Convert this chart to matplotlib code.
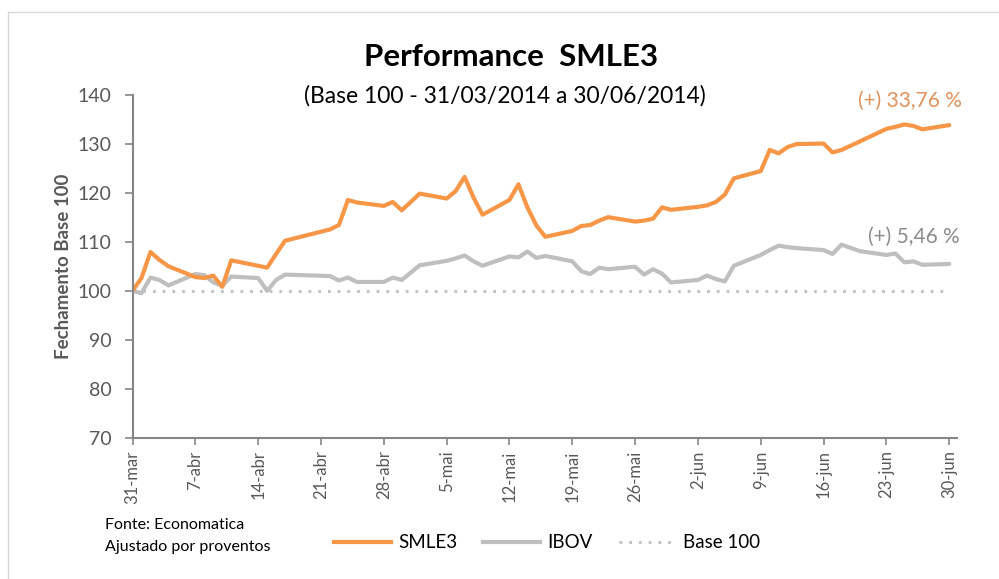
import pandas as pd
import matplotlib.pyplot as plt
from matplotlib.lines import Line2D
from matplotlib.patches import Rectangle

plt.rcParams['font.family'] = ['Lato', 'DejaVu Sans']

# trading days, 31/03/2014 to 30/06/2014
dates = pd.to_datetime([
    '2014-03-31', '2014-04-01', '2014-04-02', '2014-04-03', '2014-04-04',
    '2014-04-07', '2014-04-08', '2014-04-09', '2014-04-10', '2014-04-11',
    '2014-04-14', '2014-04-15', '2014-04-16', '2014-04-17',
    '2014-04-22', '2014-04-23', '2014-04-24', '2014-04-25',
    '2014-04-28', '2014-04-29', '2014-04-30', '2014-05-02',
    '2014-05-05', '2014-05-06', '2014-05-07', '2014-05-08', '2014-05-09',
    '2014-05-12', '2014-05-13', '2014-05-14', '2014-05-15', '2014-05-16',
    '2014-05-19', '2014-05-20', '2014-05-21', '2014-05-22', '2014-05-23',
    '2014-05-26', '2014-05-27', '2014-05-28', '2014-05-29', '2014-05-30',
    '2014-06-02', '2014-06-03', '2014-06-04', '2014-06-05', '2014-06-06',
    '2014-06-09', '2014-06-10', '2014-06-11', '2014-06-12', '2014-06-13',
    '2014-06-16', '2014-06-17', '2014-06-18', '2014-06-20',
    '2014-06-23', '2014-06-24', '2014-06-25', '2014-06-26', '2014-06-27',
    '2014-06-30'])

smle3 = [100.0, 102.6, 107.9, 106.3, 105.0,
         102.8, 102.6, 103.1, 100.8, 106.2,
         105.1, 104.7, 107.5, 110.2,
         112.5, 113.4, 118.5, 118.0,
         117.3, 118.1, 116.4, 119.8,
         118.8, 120.3, 123.2, 119.0, 115.5,
         118.5, 121.7, 117.0, 113.3, 111.0,
         112.2, 113.2, 113.4, 114.3, 115.0,
         114.1, 114.3, 114.7, 117.0, 116.5,
         117.1, 117.4, 118.1, 119.6, 122.9,
         124.4, 128.7, 128.0, 129.3, 129.9,
         130.0, 128.2, 128.7, 130.4,
         133.0, 133.4, 133.9, 133.6, 132.9,
         133.76]

ibov = [100.0, 99.5, 102.7, 102.2, 101.1,
        103.4, 103.2, 101.7, 101.0, 102.9,
        102.6, 100.0, 102.2, 103.3,
        103.0, 102.1, 102.7, 101.8,
        101.8, 102.7, 102.2, 105.2,
        106.1, 106.6, 107.2, 106.0, 105.1,
        107.0, 106.8, 108.0, 106.7, 107.1,
        106.0, 104.0, 103.4, 104.7, 104.4,
        104.9, 103.3, 104.4, 103.5, 101.7,
        102.2, 103.1, 102.4, 101.9, 105.1,
        107.3, 108.3, 109.2, 108.9, 108.7,
        108.3, 107.5, 109.4, 108.1,
        107.3, 107.6, 105.8, 106.0, 105.3,
        105.46]

tick_dates = pd.date_range('2014-03-31', '2014-06-30', freq='7D')
tick_labels = ['31-mar', '7-abr', '14-abr', '21-abr', '28-abr', '5-mai',
               '12-mai', '19-mai', '26-mai', '2-jun', '9-jun', '16-jun',
               '23-jun', '30-jun']

orange = '#F79646'
gray = '#BFBFBF'
axis_gray = '#868686'
text_gray = '#595959'

fig = plt.figure(figsize=(9.99, 5.79), dpi=100)
ax = fig.add_axes([132.5 / 999, 1 - 438 / 579, (956.7 - 132.5) / 999, (438 - 94.5) / 579])

# chart area border
fig.patches.append(Rectangle((8 / 999, -0.05), 1.2, 1 - 12 / 579 + 0.05,
                             transform=fig.transFigure, fill=False,
                             edgecolor='#D9D9D9', lw=1))

ax.plot([dates[0], dates[-1]], [100, 100], color=gray, lw=2, ls=(0, (1, 2.5)))
ax.plot(dates, ibov, color=gray, lw=3, solid_joinstyle='round', solid_capstyle='round')
ax.plot(dates, smle3, color=orange, lw=3, solid_joinstyle='round', solid_capstyle='round')

ax.set_ylim(70, 140)
ax.set_yticks(range(70, 141, 10))
ax.set_xlim(dates[0], dates[-1] + pd.Timedelta(hours=20))
ax.set_xticks(tick_dates)
ax.set_xticklabels(tick_labels, rotation=90)

for s in ['top', 'right']:
    ax.spines[s].set_visible(False)
for s in ['left', 'bottom']:
    ax.spines[s].set_color(axis_gray)
    ax.spines[s].set_linewidth(1.5)
ax.tick_params(axis='y', colors=axis_gray, labelcolor=text_gray, labelsize=14,
               length=6, width=1.2, pad=9)
ax.tick_params(axis='x', colors=axis_gray, labelcolor=text_gray, labelsize=12,
               length=5, width=1.2, pad=4)
ax.set_ylabel('Fechamento Base 100', fontsize=13.5, fontweight='bold',
              color=text_gray, labelpad=4)

fig.text(511 / 999, 1 - 57 / 579, 'Performance  SMLE3', ha='center', va='center',
         fontsize=22.5, fontweight='bold', color='black')
fig.text(505 / 999, 1 - 96 / 579, '(Base 100 - 31/03/2014 a 30/06/2014)',
         ha='center', va='center', fontsize=16.5, color='black')

fig.text(962 / 999, 1 - 101 / 579, '(+) 33,76 %', ha='right', va='center',
         fontsize=15, color='#E0925A')
fig.text(960 / 999, 1 - 237 / 579, '(+) 5,46 %', ha='right', va='center',
         fontsize=15, color='#8C8C8C')

fig.text(105 / 999, 1 - 525 / 579, 'Fonte: Economatica', ha='left', va='center',
         fontsize=11.5, color='black')
fig.text(105 / 999, 1 - 547 / 579, 'Ajustado por proventos', ha='left', va='center',
         fontsize=11.5, color='black')

handles = [Line2D([], [], color=orange, lw=3),
           Line2D([], [], color=gray, lw=3),
           Line2D([], [], color=gray, lw=2, ls=(0, (1, 2.5)))]
fig.legend(handles, ['SMLE3', 'IBOV', 'Base 100'], loc='center',
           bbox_to_anchor=(547 / 999, 1 - 543 / 579), ncol=3, frameon=False,
           fontsize=13.5, handlelength=3.0, columnspacing=1.4, handletextpad=0.4)

fig.savefig('out.png', dpi=100)
